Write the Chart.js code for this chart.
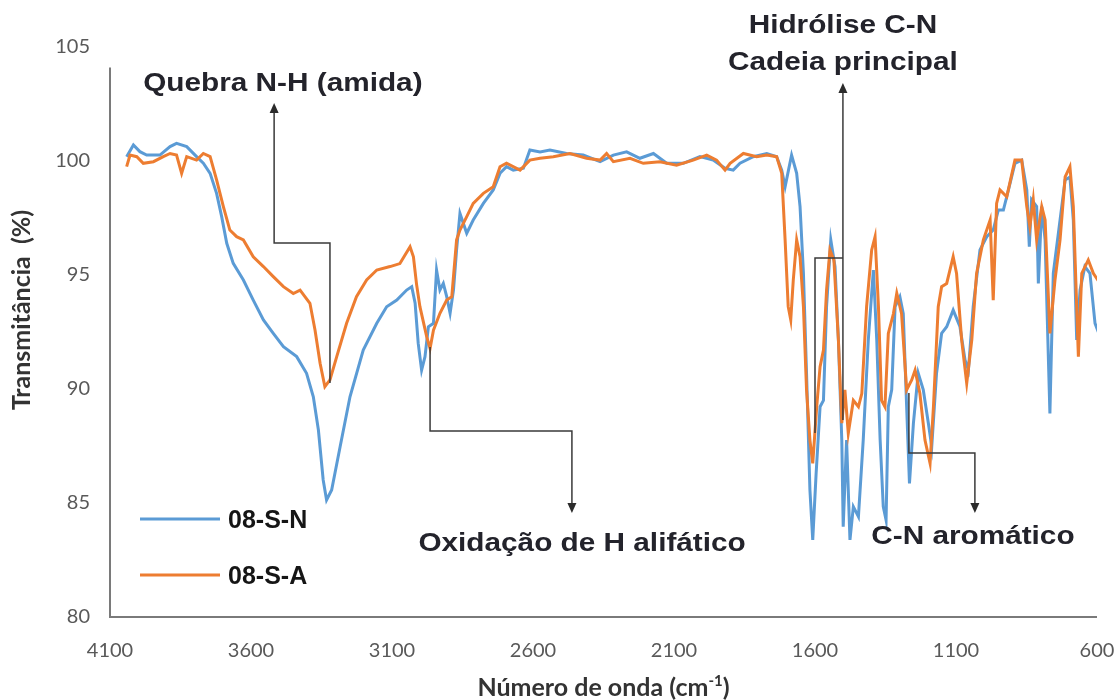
<!DOCTYPE html>
<html><head><meta charset="utf-8">
<script src="https://cdn.jsdelivr.net/npm/chart.js@4.4.0/dist/chart.umd.min.js"></script>
<style>html,body{margin:0;padding:0;background:#fff;}#wrap{width:1115px;height:700px;}</style>
</head><body><div id="wrap"><canvas id="c" width="1115" height="700"></canvas></div>
<script>
// ---------- DATA ----------
const seriesLabels = ['08-S-N', '08-S-A'];
const xTicks = [4100, 3600, 3100, 2600, 2100, 1600, 1100, 600];
const yTicks = [80, 85, 90, 95, 100, 105];

const snWavenumbers = [4041,4017,3994,3970,3923,3887,3864,3828,3793,3769,3745,3722,3704,3686,3663,3627,3592,3556,3521,3485,3438,3403,3379,3361,3344,3332,3314,3284,3249,3202,3154,3119,3083,3048,3030,3018,3007,2995,2983,2971,2953,2942,2930,2918,2906,2894,2882,2871,2859,2835,2812,2776,2741,2717,2694,2670,2634,2611,2575,2540,2481,2422,2362,2315,2268,2221,2173,2126,2067,2008,1961,1919,1890,1866,1819,1771,1736,1718,1706,1694,1683,1665,1653,1641,1630,1618,1608,1596,1582,1570,1559,1544,1529,1517,1505,1500,1488,1476,1464,1446,1429,1411,1393,1381,1369,1358,1348,1340,1328,1316,1299,1287,1275,1265,1251,1234,1216,1198,1186,1169,1151,1133,1110,1086,1068,1056,1039,1015,991,968,950,932,914,891,867,849,840,832,814,808,796,784,767,755,731,713,696,684,672,660,643,625,607,589];
const snValues = [100.19,100.70,100.41,100.26,100.26,100.63,100.77,100.63,100.19,99.90,99.46,98.58,97.56,96.39,95.51,94.78,93.90,93.03,92.44,91.86,91.42,90.69,89.66,88.20,86.01,85.13,85.57,87.47,89.66,91.71,92.88,93.61,93.90,94.34,94.49,93.76,92.0,90.83,91.42,92.73,92.88,95.22,94.34,94.63,94.05,93.32,94.34,96.1,97.7,96.83,97.41,98.14,98.73,99.46,99.75,99.6,99.68,100.48,100.4,100.48,100.33,100.26,99.97,100.26,100.4,100.12,100.33,99.90,99.90,100.19,100.04,99.68,99.6,99.9,100.19,100.33,100.19,99.6,98.87,99.6,100.26,99.46,98.0,95.07,90.69,85.57,83.38,86.3,89.22,89.5,93.61,96.54,95.37,92.15,87.76,83.96,87.76,83.38,84.84,84.4,87.76,92.15,95.22,92.15,87.76,84.84,84.25,89.22,89.96,93.61,94.05,93.3,89.22,85.86,88.5,90.69,89.96,88.5,87.47,90.69,92.44,92.73,93.46,92.73,91.27,90.83,93.61,96.1,96.68,96.97,97.85,97.85,98.73,99.9,100.04,98.73,96.24,98.3,98.0,94.63,98.0,96.54,88.93,95.07,97.41,99.17,99.3,97.41,92.15,94.34,95.37,95.07,92.88,92.29];

const saWavenumbers = [4041,4029,4005,3982,3946,3911,3887,3864,3846,3828,3793,3769,3745,3722,3698,3675,3651,3627,3592,3556,3521,3485,3450,3426,3391,3373,3355,3338,3320,3296,3261,3226,3190,3154,3107,3072,3036,3024,3013,3001,2977,2965,2953,2930,2906,2888,2871,2859,2835,2812,2776,2741,2717,2694,2646,2611,2575,2528,2469,2410,2362,2339,2315,2256,2209,2150,2091,2032,1984,1949,1919,1901,1854,1807,1771,1736,1718,1706,1695,1686,1677,1665,1653,1641,1630,1618,1608,1594,1582,1570,1559,1547,1533,1517,1505,1494,1482,1464,1446,1434,1417,1399,1387,1375,1364,1352,1340,1322,1310,1293,1275,1257,1245,1228,1210,1192,1180,1163,1151,1133,1110,1098,1080,1062,1044,1027,1003,979,968,956,944,920,891,867,849,838,826,814,796,784,767,749,731,713,696,684,666,654,631,613,589];
const saValues = [99.75,100.26,100.19,99.90,99.97,100.19,100.33,100.26,99.46,100.19,100.04,100.33,100.19,99.17,98.0,96.97,96.68,96.54,95.80,95.37,94.93,94.49,94.19,94.34,93.76,92.59,91.13,90.10,90.4,91.42,92.88,94.05,94.78,95.22,95.37,95.5,96.24,95.8,94.6,93.61,92.3,91.78,92.58,93.32,93.90,94.05,96.54,96.97,97.56,98.14,98.58,98.87,99.75,99.9,99.6,100.04,100.12,100.19,100.33,100.12,100.04,100.33,99.97,100.12,99.9,99.97,99.82,100.04,100.26,100.04,99.6,99.9,100.33,100.19,100.26,100.19,99.46,96.54,93.61,93.03,94.78,96.54,95.8,93.61,89.96,87.76,86.74,89.22,90.98,91.71,94.34,96.1,95.66,92.15,88.5,89.96,88.06,89.5,89.22,89.8,93.61,96.1,96.68,93.61,89.5,89.22,92.44,93.3,94.2,93.3,89.96,90.4,90.83,89.8,87.76,86.74,89.22,93.61,94.49,94.63,95.8,95.07,92.15,90.25,92.15,95.07,96.54,97.41,93.9,98.14,98.73,98.43,100.04,100.04,98.0,97.12,98.3,96.54,98.0,97.41,92.44,94.78,96.54,99.3,99.75,98.0,91.42,95.07,95.66,95.07,94.63];

// annotation texts (anchored in data units: wavenumber, transmittance at baseline)
const noteTexts = ['Quebra N-H (amida)', 'Hidrólise C-N', 'Cadeia principal', 'Oxidação de H alifático', 'C-N aromático'];
const noteX = [3487, 1501, 1501, 2426, 1040];
const noteY = [103.07, 105.61, 103.99, 82.89, 83.20];

// connector paths in data units
const connectorPaths = [
  [[3320, 90.26], [3320, 96.40], [3518, 96.40], [3518, 102.54]],
  [[2965, 91.84], [2965, 88.16], [2462, 88.16], [2462, 84.56]],
  [[1501, 88.64], [1501, 103.42]],
  [[1600, 88.07], [1600, 95.75], [1501, 95.75]],
  [[1267, 89.82], [1267, 87.19], [1033, 87.19], [1033, 84.56]]
];
const connectorArrow = [true, true, true, false, true];

const yAxisLineTop = 104.1;

// ---------- BUILD ----------
const toPts = (xs, ys) => xs.map((v, i) => ({x: v, y: ys[i]}));
const colors = ['#5B9BD5', '#ED7D31'];

function stretchText(ctx, text, x, y, font, sx, color, align) {
  ctx.save();
  ctx.font = font; ctx.fillStyle = color;
  ctx.textAlign = align || 'center'; ctx.textBaseline = 'alphabetic';
  ctx.translate(x, y); ctx.scale(sx, 1);
  ctx.fillText(text, 0, 0);
  ctx.restore();
}

const overlay = {
  id: 'overlay',
  afterDraw(chart) {
    const {ctx, chartArea: ca, scales: {x, y}} = chart;
    const px = v => x.getPixelForValue(v), py = v => y.getPixelForValue(v);
    // axes lines
    ctx.save();
    ctx.strokeStyle = '#7a7a7a'; ctx.lineWidth = 2;
    ctx.beginPath();
    ctx.moveTo(ca.left, py(yAxisLineTop)); ctx.lineTo(ca.left, ca.bottom); ctx.lineTo(ca.right, ca.bottom);
    ctx.stroke();
    ctx.restore();

    // connectors
    ctx.save();
    ctx.strokeStyle = '#3a3a3a'; ctx.fillStyle = '#2b2b2b'; ctx.lineWidth = 1.5;
    connectorPaths.forEach((path, k) => {
      const pts = path.map(p => [px(p[0]), py(p[1])]);
      const n = pts.length;
      const end = pts[n - 1];
      const prev = pts[n - 2];
      const dx = end[0] - prev[0], dy = end[1] - prev[1];
      const len = Math.hypot(dx, dy), ux = dx / len, uy = dy / len;
      const ah = 10, aw = 4.5;
      ctx.beginPath();
      ctx.moveTo(pts[0][0], pts[0][1]);
      for (let i = 1; i < n - 1; i++) ctx.lineTo(pts[i][0], pts[i][1]);
      if (connectorArrow[k]) ctx.lineTo(end[0] - ux * ah, end[1] - uy * ah); else ctx.lineTo(end[0], end[1]);
      ctx.stroke();
      if (connectorArrow[k]) {
        ctx.beginPath();
        ctx.moveTo(end[0], end[1]);
        ctx.lineTo(end[0] - ux * ah - uy * aw, end[1] - uy * ah + ux * aw);
        ctx.lineTo(end[0] - ux * ah + uy * aw, end[1] - uy * ah - ux * aw);
        ctx.closePath(); ctx.fill();
      }
    });
    ctx.restore();

    // annotation texts
    noteTexts.forEach((t, i) => {
      stretchText(ctx, t, px(noteX[i]), py(noteY[i]), 'bold 25px "Liberation Sans", Arial, sans-serif', 1.19, '#23232b', 'center');
    });

    // legend (inside plot)
    chart.data.datasets.forEach((ds, i) => {
      const ly = ca.bottom - 98 + i * 56;
      ctx.save();
      ctx.strokeStyle = ds.borderColor; ctx.lineWidth = 3;
      ctx.beginPath(); ctx.moveTo(ca.left + 30, ly); ctx.lineTo(ca.left + 110, ly); ctx.stroke();
      ctx.restore();
      stretchText(ctx, ds.label, ca.left + 118, ly + 9, 'bold 25px "Liberation Sans", Arial, sans-serif', 1.0, '#151515', 'left');
    });

    // axis titles
    ctx.save();
    ctx.translate(22, (ca.top + ca.bottom) / 2 - 22);
    ctx.rotate(-Math.PI / 2);
    ctx.font = 'bold 25px Lato, sans-serif'; ctx.fillStyle = '#333333';
    ctx.textAlign = 'center'; ctx.textBaseline = 'middle';
    ctx.fillText('Transmitância  (%)', 0, 0);
    ctx.restore();

    ctx.save();
    const f1 = 'bold 25px Lato, sans-serif', f2 = 'bold 15px Lato, sans-serif';
    const a = 'Número de onda (cm', sup = '-1', b = ')';
    ctx.font = f1; const wa = ctx.measureText(a).width, wb = ctx.measureText(b).width;
    ctx.font = f2; const ws = ctx.measureText(sup).width;
    const total = wa + ws + wb;
    const cx = (ca.left + ca.right) / 2;
    const sx = cx - total / 2; const base = 696;
    ctx.fillStyle = '#333333'; ctx.textBaseline = 'alphabetic'; ctx.textAlign = 'left';
    ctx.font = f1; ctx.fillText(a, sx, base);
    ctx.font = f2; ctx.fillText(sup, sx + wa, base - 10);
    ctx.font = f1; ctx.fillText(b, sx + wa + ws, base);
    ctx.restore();
  }
};

new Chart(document.getElementById('c'), {
  type: 'line',
  data: {
    datasets: [
      {label: seriesLabels[0], data: toPts(snWavenumbers, snValues), borderColor: colors[0], borderWidth: 3, pointRadius: 0, tension: 0, order: 2, fill: false},
      {label: seriesLabels[1], data: toPts(saWavenumbers, saValues), borderColor: colors[1], borderWidth: 3, pointRadius: 0, tension: 0, order: 1, fill: false}
    ]
  },
  options: {
    responsive: false, animation: false,
    layout: {padding: {top: 47, right: 18, left: 0, bottom: 0}},
    plugins: {legend: {display: false}, tooltip: {enabled: false}},
    scales: {
      x: {
        type: 'linear', reverse: true, min: 600, max: 4100,
        grid: {display: false, drawTicks: false}, border: {display: false},
        ticks: {color: '#595959', font: {family: 'Lato', size: 20}, padding: 22, maxRotation: 0, autoSkip: false,
                callback: v => String(v)},
        afterBuildTicks: s => { s.ticks = xTicks.map(v => ({value: v})); },
        afterFit: s => { s.height = 83; s.paddingLeft = 0; s.paddingRight = 0; }
      },
      y: {
        min: 80, max: 105,
        grid: {display: false, drawTicks: false}, border: {display: false},
        ticks: {color: '#595959', font: {family: 'Lato', size: 20}, padding: 20, autoSkip: false,
                callback: v => String(v)},
        afterBuildTicks: s => { s.ticks = yTicks.map(v => ({value: v})); },
        afterFit: s => { s.width = 110; s.paddingTop = 0; s.paddingBottom = 0; }
      }
    }
  },
  plugins: [overlay]
});
</script></body></html>
